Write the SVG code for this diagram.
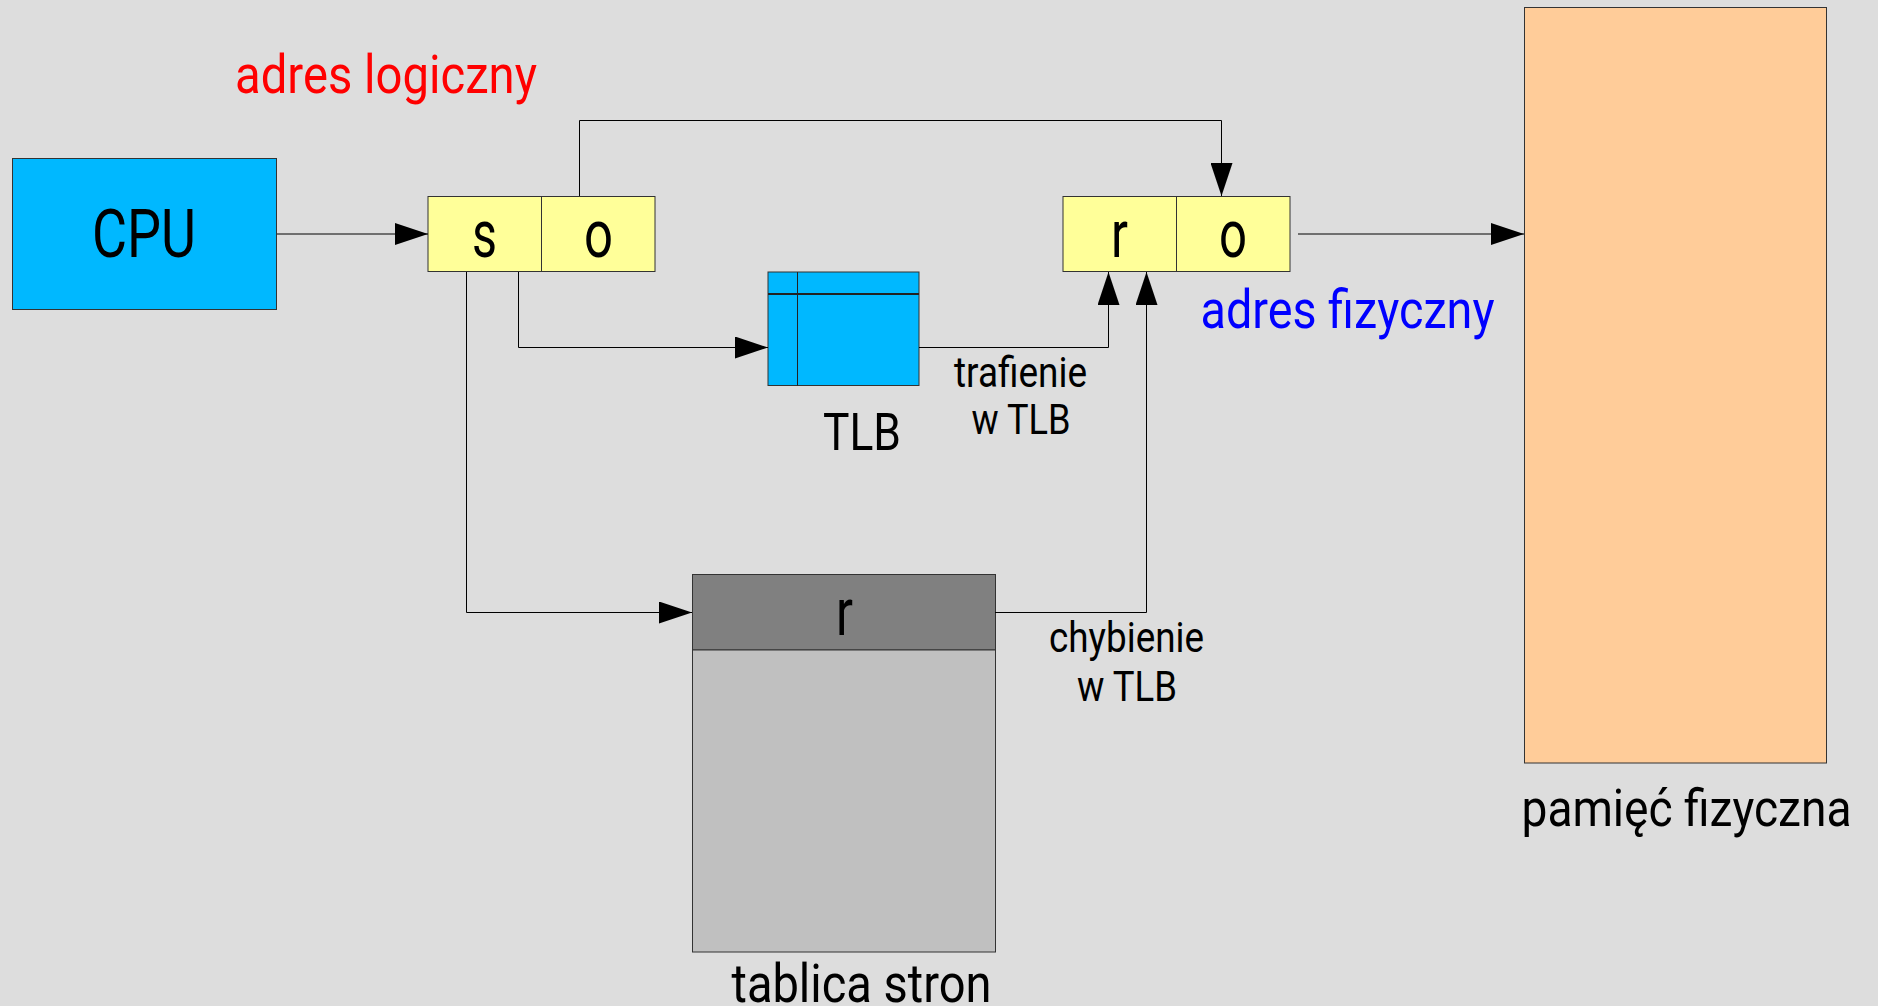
<svg xmlns="http://www.w3.org/2000/svg" width="1878" height="1006" viewBox="0 0 1878 1006">
<style>
text{font-family:Roboto,"Liberation Sans",sans-serif;fill:#000}
.box{stroke:#333;stroke-width:1}
.cyan{fill:#00b8ff}
.yel{fill:#ffff99}
.big{font-size:67px}
.mid{font-size:54px}
.lbl{font-size:42px}
.con{fill:none;stroke:#000;stroke-width:1}
</style>
<defs>
<marker id="ah" markerUnits="userSpaceOnUse" markerWidth="34" markerHeight="22" refX="33" refY="11" orient="auto" viewBox="0 0 34 22">
<path d="M0,0 L33,11 L0,22 z" fill="#000"/>
</marker>
</defs>
<rect width="1878" height="1006" fill="#dddddd"/>
<text class="mid" x="235" y="93" textLength="302" lengthAdjust="spacingAndGlyphs" style="fill:#ff0000">adres logiczny</text>
<g id="cpu">
<rect class="box cyan" x="12.5" y="158.5" width="264" height="151"/>
<text class="big" x="92" y="257" textLength="104" lengthAdjust="spacingAndGlyphs">CPU</text>
</g>
<g id="logical-address">
<rect class="box yel" x="428" y="196.5" width="113.5" height="75"/>
<rect class="box yel" x="541.5" y="196.5" width="113.5" height="75"/>
<text class="big" x="472" y="257" textLength="25" lengthAdjust="spacingAndGlyphs">s</text>
<text class="big" x="584" y="257" textLength="29" lengthAdjust="spacingAndGlyphs">o</text>
</g>
<g id="tlb">
<rect class="box cyan" x="768" y="272" width="151" height="113.5"/>
<line x1="797.5" y1="272" x2="797.5" y2="385.5" stroke="#222" stroke-width="1"/>
<line x1="768" y1="294" x2="919" y2="294" stroke="#222" stroke-width="2"/>
<text x="823" y="450" font-size="52" textLength="78" lengthAdjust="spacingAndGlyphs">TLB</text>
</g>
<g id="physical-address">
<rect class="box yel" x="1063" y="196.5" width="113.5" height="75"/>
<rect class="box yel" x="1176.5" y="196.5" width="113.5" height="75"/>
<text class="big" x="1111" y="257" textLength="17" lengthAdjust="spacingAndGlyphs">r</text>
<text class="big" x="1219" y="257" textLength="28" lengthAdjust="spacingAndGlyphs">o</text>
<text class="mid" x="1200.5" y="328" textLength="294" lengthAdjust="spacingAndGlyphs" style="fill:#0000ff">adres fizyczny</text>
</g>
<g id="page-table">
<rect class="box" x="692.5" y="574.5" width="303" height="75.5" fill="#808080"/>
<rect class="box" x="692.5" y="650" width="303" height="302" fill="#c0c0c0"/>
<text class="big" x="836" y="635" textLength="17" lengthAdjust="spacingAndGlyphs">r</text>
<text class="mid" x="731.5" y="1002" textLength="260" lengthAdjust="spacingAndGlyphs">tablica stron</text>
</g>
<g id="memory">
<rect class="box" x="1524.5" y="7.5" width="302" height="755.5" fill="#ffcc99"/>
<text x="1521.5" y="826" font-size="52" textLength="330" lengthAdjust="spacingAndGlyphs">pamięć fizyczna</text>
</g>
<g id="connectors">
<path class="con" d="M277,234 H428" marker-end="url(#ah)"/>
<path class="con" d="M579.5,196 V120.5 H1221.5 V196" marker-end="url(#ah)"/>
<path class="con" d="M518.5,272 V347.5 H768" marker-end="url(#ah)"/>
<path class="con" d="M466.5,272 V612.5 H692" marker-end="url(#ah)"/>
<path class="con" d="M919,347.5 H1108.5 V272" marker-end="url(#ah)"/>
<path class="con" d="M995,612.5 H1146.5 V272" marker-end="url(#ah)"/>
<path class="con" d="M1298,234 H1524" marker-end="url(#ah)"/>
<text class="lbl" x="954" y="387" textLength="133" lengthAdjust="spacingAndGlyphs">trafienie</text>
<text class="lbl" x="971.5" y="434" textLength="99" lengthAdjust="spacingAndGlyphs">w TLB</text>
<text class="lbl" x="1049" y="652" textLength="155" lengthAdjust="spacingAndGlyphs">chybienie</text>
<text class="lbl" x="1077" y="701" textLength="100" lengthAdjust="spacingAndGlyphs">w TLB</text>
</g>
</svg>
